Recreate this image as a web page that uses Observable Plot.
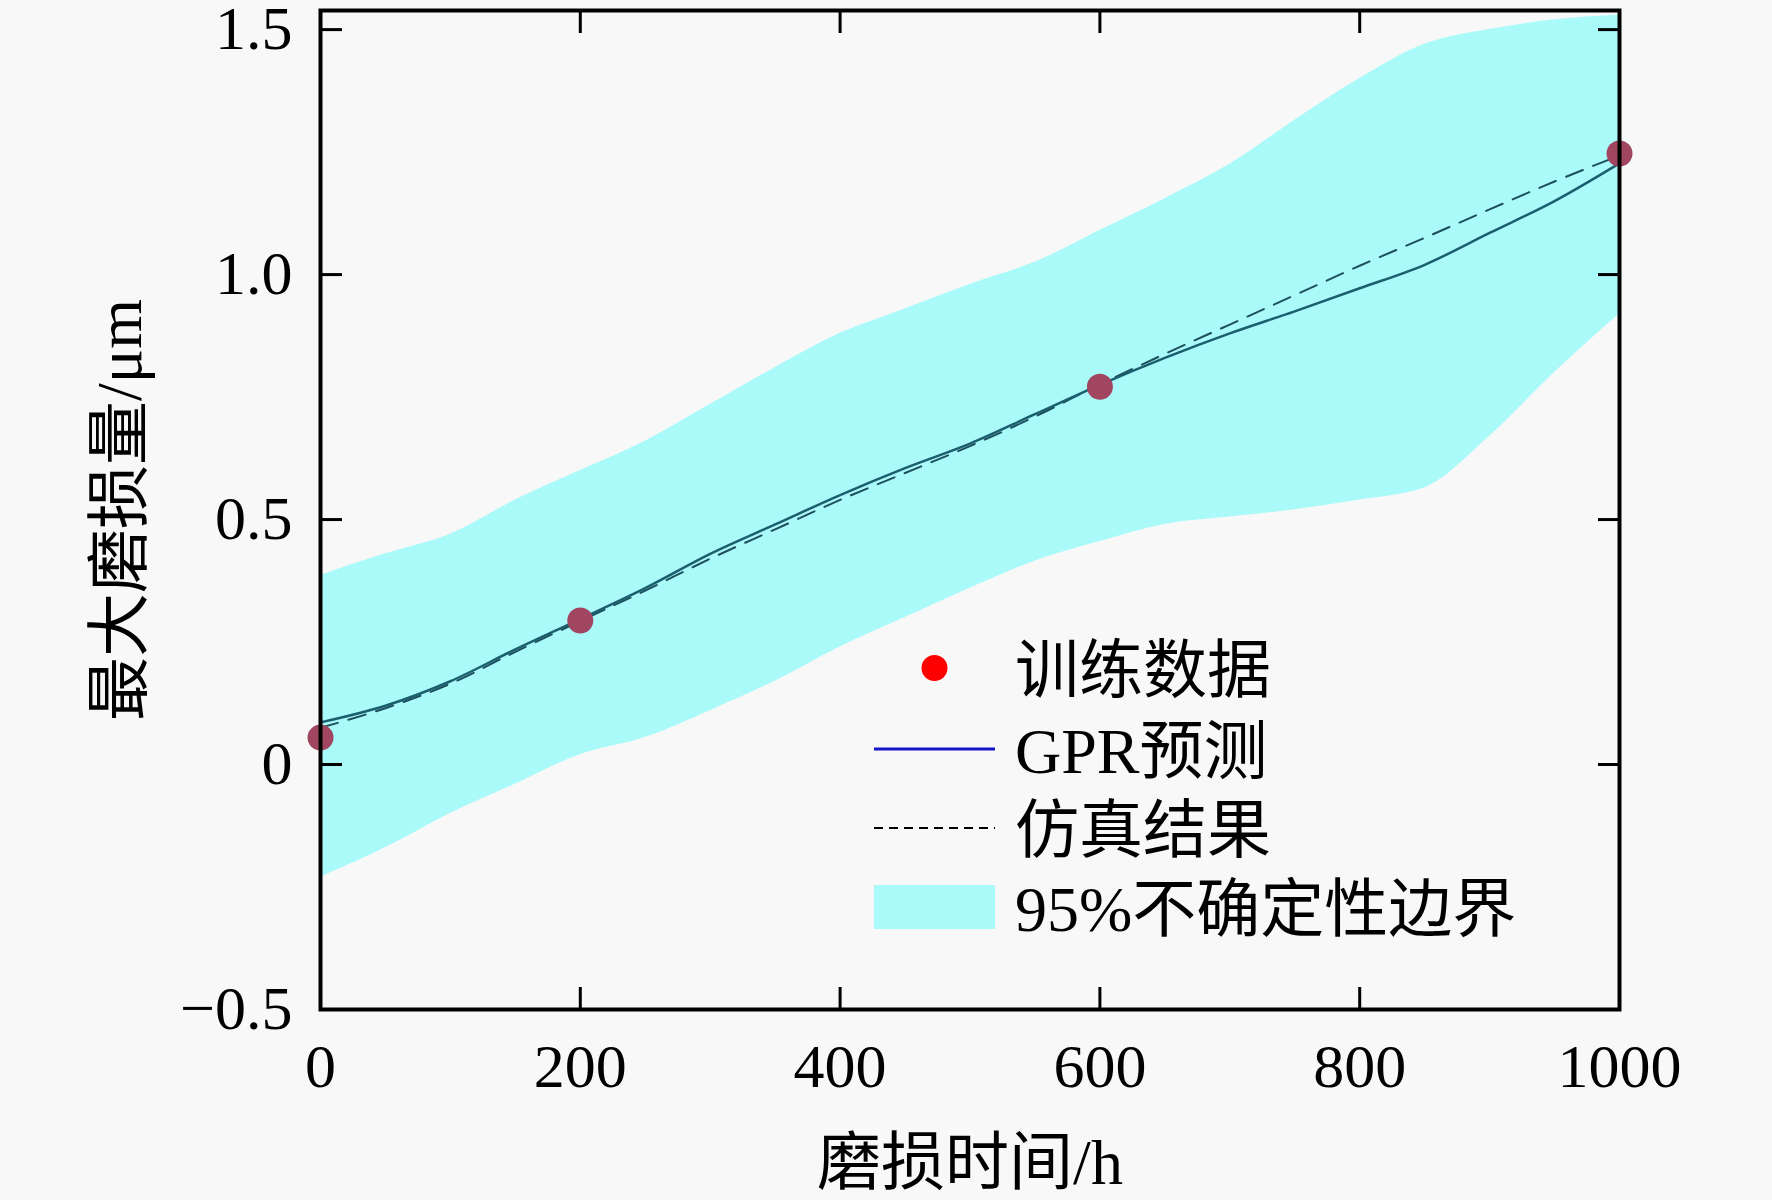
<!DOCTYPE html>
<html>
<head>
<meta charset="utf-8">
<script src="https://cdn.jsdelivr.net/npm/d3@7"></script>
<script src="https://cdn.jsdelivr.net/npm/@observablehq/plot@0.6"></script>
<style>
html, body { margin: 0; padding: 0; background: #f8f8f8; }
#wrap { position: relative; width: 1772px; height: 1200px; }
#wrap > svg { position: absolute; left: 0; top: 0; }
</style>
</head>
<body>
<div id="wrap"></div>
<script>
// ---- data ----
const timeH = [0, 50, 100, 150, 200, 250, 300, 350, 400, 450, 500, 550, 600, 650, 700, 750, 800, 850, 900, 950, 1000];
const gprPrediction = [0.086, 0.12, 0.17, 0.235, 0.297, 0.36, 0.43, 0.49, 0.55, 0.605, 0.655, 0.715, 0.775, 0.83, 0.88, 0.925, 0.972, 1.02, 1.085, 1.15, 1.227];
const simulationResult = [0.075, 0.115, 0.165, 0.23, 0.293, 0.355, 0.42, 0.48, 0.54, 0.595, 0.65, 0.71, 0.776, 0.838, 0.898, 0.958, 1.018, 1.075, 1.133, 1.19, 1.243];
const bandUpper = [0.386, 0.43, 0.47, 0.54, 0.60, 0.66, 0.735, 0.81, 0.88, 0.93, 0.98, 1.025, 1.09, 1.155, 1.225, 1.315, 1.40, 1.47, 1.50, 1.52, 1.53];
const bandLower = [-0.23, -0.17, -0.10, -0.04, 0.02, 0.055, 0.11, 0.17, 0.24, 0.30, 0.36, 0.415, 0.455, 0.49, 0.505, 0.52, 0.54, 0.565, 0.67, 0.80, 0.92];
const trainX = [0, 200, 600, 1000];
const trainY = [0.055, 0.294, 0.771, 1.247];
const xTicks = [0, 200, 400, 600, 800, 1000];
const yTicks = [-0.5, 0, 0.5, 1.0, 1.5];
const yTickLabels = ["\u22120.5", "0", "0.5", "1.0", "1.5"];
const xLabel = "磨损时间/h";
const yLabel = "最大磨损量/μm";
const legendLabels = ["训练数据", "GPR预测", "仿真结果", "95%不确定性边界"];

// ---- tables built from the arrays ----
const curves = timeH.map((t, i) => ({t, gpr: gprPrediction[i], sim: simulationResult[i], lo: bandLower[i], hi: bandUpper[i]}));
const train = trainX.map((t, i) => ({t, y: trainY[i]}));

const FONT = "'Liberation Serif','Times New Roman','Noto Sans CJK SC',serif";
const bandColor = "#aafafa";

const chart = Plot.plot({
  width: 1772,
  height: 1200,
  marginLeft: 320,
  marginRight: 153,
  marginTop: 10,
  marginBottom: 191,
  x: {domain: [0, 1000]},
  y: {domain: [-0.5, 1.539]},
  style: {background: "#f8f8f8", fontFamily: FONT, fontSize: "62px", color: "#000", overflow: "visible"},
  marks: [
    Plot.areaY(curves, {x: "t", y1: "lo", y2: "hi", fill: bandColor, curve: "monotone-x"}),
    Plot.line(curves, {x: "t", y: "sim", stroke: "#1e4f5c", strokeWidth: 2, strokeDasharray: "18,11", curve: "monotone-x"}),
    Plot.line(curves, {x: "t", y: "gpr", stroke: "#1b5e6e", strokeWidth: 2.5, curve: "monotone-x"}),
    Plot.dot(train, {x: "t", y: "y", r: 13, fill: "#a04660", stroke: "none"}),
    // tick labels
    Plot.axisX({anchor: "bottom", ticks: xTicks, tickSize: 0, tickPadding: 33, label: null, tickFormat: d => String(d), fontSize: 62}),
    Plot.axisY({anchor: "left", ticks: yTicks, tickSize: 0, tickPadding: 28, label: null, tickFormat: d => yTickLabels[yTicks.indexOf(d)], fontSize: 62}),
    // inward ticks on all four sides
    Plot.axisX({anchor: "bottom", ticks: xTicks, tickSize: 22, dy: -22, strokeWidth: 3, label: null, tickFormat: () => ""}),
    Plot.axisX({anchor: "top", ticks: xTicks, tickSize: 22, dy: 22, strokeWidth: 3, label: null, tickFormat: () => ""}),
    Plot.axisY({anchor: "left", ticks: yTicks, tickSize: 22, dx: 22, strokeWidth: 3, label: null, tickFormat: () => ""}),
    Plot.axisY({anchor: "right", ticks: yTicks, tickSize: 22, dx: -22, strokeWidth: 3, label: null, tickFormat: () => ""}),
    Plot.frame({stroke: "#000", strokeWidth: 4}),
    // axis titles
    Plot.text([xLabel], {text: d => d, frameAnchor: "bottom", textAnchor: "middle", lineAnchor: "bottom", dy: 174, fontSize: 64, fill: "#000"}),
    Plot.text([yLabel], {text: d => d, frameAnchor: "left", textAnchor: "middle", lineAnchor: "middle", rotate: -90, dx: -200, fontSize: 64, fill: "#000"})
  ]
});

const wrap = document.getElementById("wrap");
wrap.appendChild(chart);

// ---- legend overlay ----
const leg = d3.select(wrap).append("svg")
  .attr("width", 1772).attr("height", 1200)
  .style("pointer-events", "none");
const rowY = [668, 749, 828, 907];
const swX0 = 874, swX1 = 995, textX = 1015;
// training data dot
leg.append("circle").attr("cx", (swX0 + swX1) / 2).attr("cy", rowY[0]).attr("r", 13).attr("fill", "#ff0000");
// GPR line
leg.append("line").attr("x1", swX0).attr("x2", swX1).attr("y1", rowY[1]).attr("y2", rowY[1])
  .attr("stroke", "#1414c8").attr("stroke-width", 3);
// simulation dashed
leg.append("line").attr("x1", swX0).attr("x2", swX1).attr("y1", rowY[2]).attr("y2", rowY[2])
  .attr("stroke", "#000").attr("stroke-width", 2).attr("stroke-dasharray", "9,6");
// band swatch
leg.append("rect").attr("x", swX0).attr("y", rowY[3] - 22).attr("width", swX1 - swX0).attr("height", 44)
  .attr("fill", bandColor);
legendLabels.forEach((s, i) => {
  leg.append("text").attr("x", textX).attr("y", rowY[i] + 24)
    .attr("font-family", FONT).attr("font-size", 64).attr("fill", "#000").text(s);
});
</script>
</body>
</html>
